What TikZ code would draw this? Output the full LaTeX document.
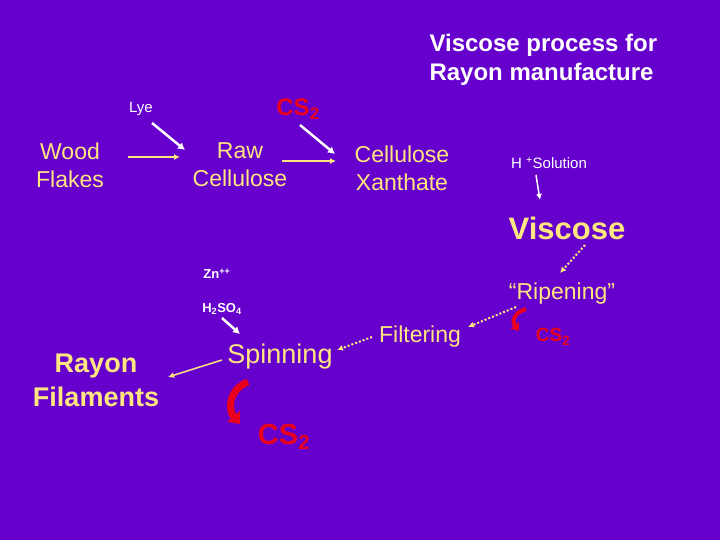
\documentclass[tikz,border=0pt]{standalone}
\usepackage{fontspec}
\setmainfont{Liberation Sans}
\usetikzlibrary{arrows.meta}
\definecolor{bg}{HTML}{6600CC}
\definecolor{ylw}{HTML}{FFE680}
\definecolor{rd}{HTML}{E8001C}
\newcommand{\sbs}[1]{\textsubscript{#1}}
\newcommand{\sps}[1]{\textsuperscript{#1}}
\begin{document}
\begin{tikzpicture}[x=1pt,y=-1pt,
  lbl/.style={text=ylw,font=\fontsize{23}{28}\selectfont,align=center,inner sep=1pt},
  wlbl/.style={text=white,font=\fontsize{15}{17}\selectfont,inner sep=1pt},
  rlbl/.style={text=rd,font=\bfseries\fontsize{24}{26}\selectfont,inner sep=1pt},
  yarr/.style={ylw,line width=1.5pt,-{Latex[length=6pt,width=6pt]}},
  darr/.style={ylw,line width=2pt,dotted,-{Latex[length=6pt,width=6pt]}},
  warr/.style={white,line width=2.5pt,-{Latex[length=7pt,width=8pt]}},
  carr/.style={rd,line width=7pt,-{Triangle[length=10pt,width=16pt]}}]
\fill[bg] (0,0) rectangle (720,540);
\node[text=white,font=\bfseries\fontsize{24}{29}\selectfont,align=left,anchor=north west] (title) at (426,31) {Viscose process for\\Rayon manufacture};
\node[lbl] (wood) at (70,165) {Wood\\Flakes};
\node[lbl] (raw) at (240,165) {Raw\\Cellulose};
\node[lbl] (xan) at (402,168) {Cellulose\\Xanthate};
\node[wlbl] (lye) at (141,109) {Lye};
\node[rlbl] (cs1) at (298,109) {CS\sbs{2}};
\node[wlbl] (hs) at (549,163) {H \sps{+}Solution};
\node[text=ylw,font=\bfseries\fontsize{31}{34}\selectfont,inner sep=1pt] (visc) at (567,228) {Viscose};
\node[lbl] (rip) at (562,294) {``Ripening''};
\node[rlbl,font=\bfseries\fontsize{19}{21}\selectfont] (cs3) at (553,337) {CS\sbs{2}};
\node[lbl] (filt) at (420,337) {Filtering};
\node[lbl,font=\fontsize{27}{30}\selectfont] (spin) at (280,357) {Spinning};
\node[wlbl,font=\bfseries\fontsize{13}{15}\selectfont] (zn) at (217,274) {Zn\sps{++}};
\node[wlbl,font=\bfseries\fontsize{13}{15}\selectfont] (h2) at (222,309) {H\sbs{2}SO\sbs{4}};
\node[text=ylw,font=\bfseries\fontsize{27}{34}\selectfont,align=center,inner sep=1pt] (rayon) at (96,380) {Rayon\\Filaments};
\node[rlbl,font=\bfseries\fontsize{29}{31}\selectfont] (cs2) at (284,437) {CS\sbs{2}};
\coordinate (w1) at (128,157); \coordinate (w2) at (180,157);
\draw[yarr] (w1) -- (w2);
\coordinate (r1) at (282,161); \coordinate (r2) at (336,161);
\draw[yarr] (r1) -- (r2);
\coordinate (l1) at (152,123);
\draw[warr] (l1) -- (185,150);
\draw[warr] (300,125) -- (335,154);
\draw[white,line width=1.5pt,-{Latex[length=6pt,width=6pt]}] (536,175) -- (540,200);
\draw[darr] (585,245) -- (560,273);
\draw[darr] (516,307) -- (468,327);
\draw[darr] (372,337) -- (337,350);
\draw[warr] (222,318) -- (240,334);
\draw[yarr] (222,360) -- (168,377);
\draw[carr] (248,382) .. controls (228,390) and (228,410) .. (240,424);
\draw[rd,line width=4pt,-{Triangle[length=7pt,width=10pt]}] (526,309) .. controls (513,313) and (512,322) .. (519,331);
\end{tikzpicture}
\end{document}
